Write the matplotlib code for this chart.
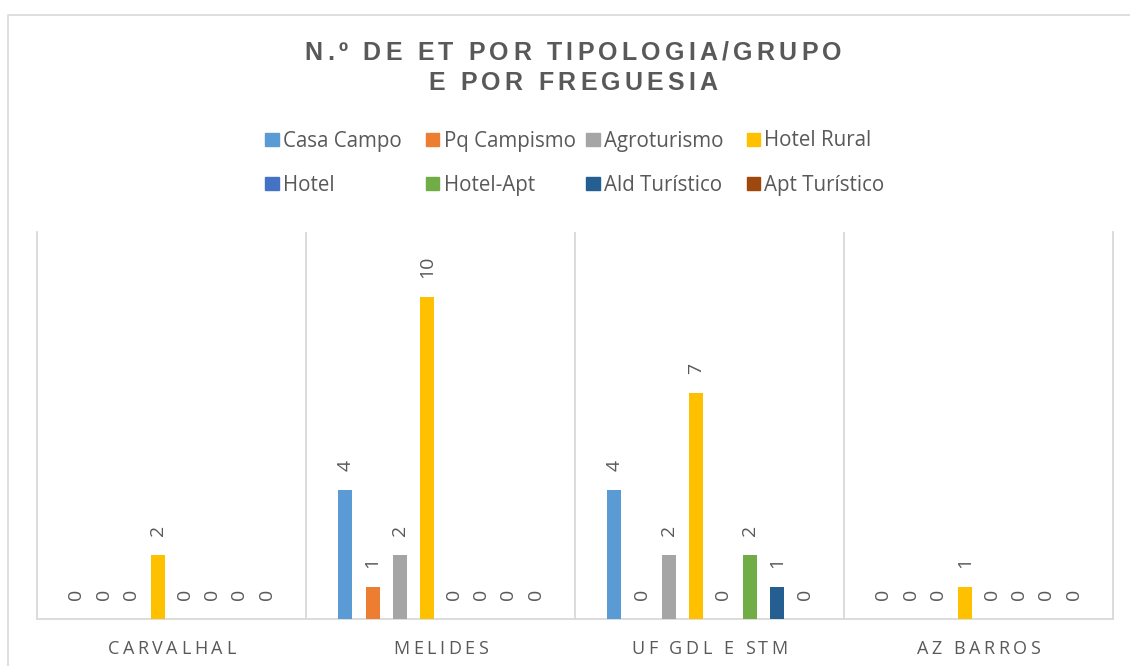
import numpy as np
import matplotlib.pyplot as plt
from matplotlib.font_manager import FontProperties, findfont
from matplotlib.ft2font import FT2Font
from matplotlib.patches import Rectangle
from matplotlib.lines import Line2D

FIG_W, FIG_H = 1130, 666
TEXT_GREY = '#595959'
LINE_GREY = '#D9D9D9'

freguesias = ['CARVALHAL', 'MELIDES', 'UF GDL E STM', 'AZ BARROS']
tipologias = ['Casa Campo', 'Pq Campismo', 'Agroturismo', 'Hotel Rural',
              'Hotel', 'Hotel-Apt', 'Ald Turístico', 'Apt Turístico']
colours = ['#5B9BD5', '#ED7D31', '#A5A5A5', '#FFC000',
           '#4472C4', '#70AD47', '#255E91', '#9E480E']
casa_campo = [0, 4, 4, 0]
pq_campismo = [0, 1, 0, 0]
agroturismo = [0, 2, 2, 0]
hotel_rural = [2, 10, 7, 1]
hotel = [0, 0, 0, 0]
hotel_apt = [0, 0, 2, 0]
ald_turistico = [0, 0, 1, 0]
apt_turistico = [0, 0, 0, 0]
series = [casa_campo, pq_campismo, agroturismo, hotel_rural,
          hotel, hotel_apt, ald_turistico, apt_turistico]
title_lines = ['N.º DE ET POR TIPOLOGIA/GRUPO', 'E POR FREGUESIA']

title_font = FontProperties(family='Liberation Sans', weight='bold', size=18)
cat_font = FontProperties(family='Open Sans', size=13)
legend_font = FontProperties(family='Open Sans', size=14.8)
label_font = FontProperties(family='Open Sans', size=14)


def px(x, y):
    # pixel position (from top left) -> figure fraction
    return x / FIG_W, 1 - y / FIG_H


def advances(s, prop):
    font = FT2Font(findfont(prop))
    font.set_size(prop.get_size_in_points(), 72)
    return [font.load_char(ord(c)).linearHoriAdvance / 65536 * 100 / 72
            for c in s]


def spaced_text(x, y, s, prop, spacing, colour=TEXT_GREY):
    # centred text with extra letter spacing, drawn char by char
    adv = advances(s, prop)
    left = x - (sum(adv) + spacing * (len(s) - 1)) / 2
    for c, a in zip(s, adv):
        fig.text(*px(left, y), c, fontproperties=prop, color=colour,
                 ha='left', va='baseline')
        left += a + spacing


fig = plt.figure(figsize=(FIG_W / 100, FIG_H / 100), dpi=100)

# chart frame (cut off at the right and bottom)
fig.add_artist(Line2D([8 / FIG_W, 8 / FIG_W, 1], [0, 1 - 15 / FIG_H, 1 - 15 / FIG_H],
                      transform=fig.transFigure, color=LINE_GREY, lw=1.2))

ax = fig.add_axes([37 / FIG_W, 1 - 619 / FIG_H, 1076 / FIG_W, 387 / FIG_H])
n = len(series)
slot = 0.101
bar_w = 0.052
x = np.arange(len(freguesias))
for i, (vals, col) in enumerate(zip(series, colours)):
    xs = x + (i - (n - 1) / 2) * slot
    ax.bar(xs, vals, width=bar_w, color=col, zorder=3)
    for xi, v in zip(xs, vals):
        ax.annotate(str(v), (xi, v), xytext=(0, 13.5), textcoords='offset points',
                    rotation=90, ha='center', va='bottom',
                    fontproperties=label_font, color=TEXT_GREY)

ax.set_xlim(-0.5, len(freguesias) - 0.5)
ax.set_ylim(0, 12)
ax.set_xticks([])
ax.set_yticks([])
for side in ['left', 'right', 'bottom']:
    ax.spines[side].set_color(LINE_GREY)
    ax.spines[side].set_linewidth(1.3)
ax.spines['top'].set_visible(False)
for b in x[:-1] + 0.5:
    ax.axvline(b, color=LINE_GREY, lw=1.3, zorder=1)

# category labels
for i, name in enumerate(freguesias):
    cx = ax.transData.transform((i, 0))[0]
    spaced_text(cx, 654, name, cat_font, 3.5)

# title
spaced_text(573, 60, title_lines[0], title_font, 4.2)
spaced_text(573, 90, title_lines[1], title_font, 4.2)

# legend, two rows of four equal columns
for k, name in enumerate(tipologias):
    r, c = divmod(k, 4)
    x0 = 265 + 160.5 * c
    yc = 139 + 44 * r
    fig.add_artist(Rectangle(px(x0, yc + 7), 13.5 / FIG_W, 13.5 / FIG_H,
                             transform=fig.transFigure, color=colours[k]))
    fig.text(*px(x0 + 18, yc + 7.5), name, fontproperties=legend_font,
             color=TEXT_GREY, ha='left', va='baseline')

fig.savefig('out.png', dpi=100)
